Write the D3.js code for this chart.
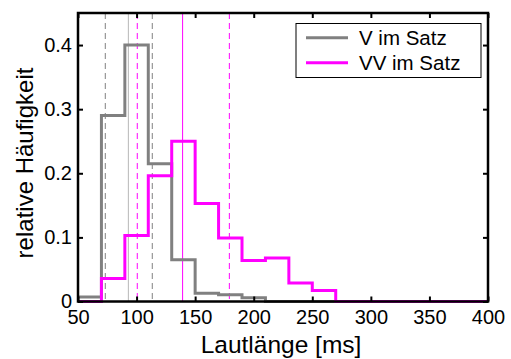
<!DOCTYPE html>
<html>
<head>
<meta charset="utf-8">
<script src="https://cdn.jsdelivr.net/npm/d3@7"></script>
<style>
  html, body { margin: 0; padding: 0; background: #fff; }
  svg { display: block; font-family: "Liberation Sans", Arial, sans-serif; }
</style>
</head>
<body>
<svg id="chart" width="511" height="359"></svg>
<script>
// Bin edges of the duration histograms (ms)
const binEdges = [50, 70, 90, 110, 130, 150, 170, 190, 210, 230, 250, 270, 400];
// Relative frequencies per bin
const vValues  = [0.007, 0.29, 0.40, 0.215, 0.065, 0.013, 0.0105, 0.006, 0, 0, 0, 0];
const vvValues = [0, 0.036, 0.103, 0.196, 0.25, 0.153, 0.099, 0.064, 0.068, 0.029, 0.017, 0];
// Reference lines: quartiles (dashed) and median (solid)
const vQuartiles  = [73.3, 113.4];
const vMedian     = 93;
const vvQuartiles = [100.6, 179.2];
const vvMedian    = 139.3;
const xTicks = [50, 100, 150, 200, 250, 300, 350, 400];
const yTicks = [0, 0.1, 0.2, 0.3, 0.4];
const seriesNames = ["V im Satz", "VV im Satz"];
const colors = ["#808080", "#ff00ff"];

const svg = d3.select("#chart");
const plotL = 78, plotR = 488, plotT = 13, plotB = 301.5;
const x = d3.scaleLinear().domain([50, 400]).range([plotL, plotR]);
const y = d3.scaleLinear().domain([0, 0.45]).range([plotB, plotT]);

// reference lines
function vline(v, color, dashed, width) {
  svg.append("line")
    .attr("x1", x(v)).attr("x2", x(v))
    .attr("y1", y(0.45)).attr("y2", y(0))
    .attr("stroke", color).attr("stroke-width", width || 1)
    .attr("stroke-dasharray", dashed ? "6,4" : null);
}
vQuartiles.forEach(v => vline(v, "#808080", true));
vline(vMedian, "#b8b8b8", false);
vvQuartiles.forEach(v => vline(v, "#ff00ff", true));
vline(vvMedian, "#ff00ff", false);

// stair histograms
const line = d3.line().x(d => x(d[0])).y(d => y(d[1])).curve(d3.curveStepAfter);
function stairs(values) {
  const pts = values.map((v, i) => [binEdges[i], v]);
  pts.push([binEdges[binEdges.length - 1], values[values.length - 1]]);
  return pts;
}
[vValues, vvValues].forEach((vals, i) => {
  svg.append("path")
    .attr("d", line(stairs(vals)))
    .attr("fill", "none")
    .attr("stroke", colors[i])
    .attr("stroke-width", 3)
    .attr("stroke-linejoin", "miter");
});

// axes frame with inward ticks
const fontSize = 20;
const xAxisB = d3.axisBottom(x).tickValues(xTicks).tickSizeInner(-5).tickSizeOuter(0).tickPadding(8.5).tickFormat(d3.format("d"));
const xAxisT = d3.axisTop(x).tickValues(xTicks).tickSizeInner(-5).tickSizeOuter(0).tickFormat("");
const yAxisL = d3.axisLeft(y).tickValues(yTicks).tickSizeInner(-5).tickSizeOuter(0).tickPadding(6)
  .tickFormat(d => d === 0 ? "0" : d.toFixed(1));
const yAxisR = d3.axisRight(y).tickValues(yTicks).tickSizeInner(-5).tickSizeOuter(0).tickFormat("");

function styleAxis(g) {
  g.select(".domain").remove();
  g.selectAll(".tick line").attr("stroke", "#000").attr("stroke-width", 2);
  g.selectAll(".tick text").attr("fill", "#000").style("font-size", fontSize + "px")
    .style("font-family", "'Liberation Sans', Arial, sans-serif");
}
svg.append("g").attr("transform", `translate(0,${plotB})`).call(xAxisB).call(styleAxis);
svg.append("g").attr("transform", `translate(0,${plotT})`).call(xAxisT).call(styleAxis);
svg.append("g").attr("transform", `translate(${plotL},0)`).call(yAxisL).call(styleAxis);
svg.append("g").attr("transform", `translate(${plotR},0)`).call(yAxisR).call(styleAxis);

svg.append("rect")
  .attr("x", plotL).attr("y", plotT)
  .attr("width", plotR - plotL).attr("height", plotB - plotT)
  .attr("fill", "none").attr("stroke", "#000").attr("stroke-width", 2.5);

// axis titles
svg.append("text")
  .attr("x", 281).attr("y", 353)
  .attr("text-anchor", "middle").style("font-size", "24.5px")
  .text("Lautlänge [ms]");
svg.append("text")
  .attr("transform", `translate(33,163) rotate(-90)`)
  .attr("text-anchor", "middle").style("font-size", "24px")
  .text("relative Häufigkeit");

// legend
const lg = svg.append("g");
lg.append("rect").attr("x", 296).attr("y", 23.5).attr("width", 185).attr("height", 54)
  .attr("fill", "#fff").attr("stroke", "#000").attr("stroke-width", 1);
seriesNames.forEach((name, i) => {
  const ly = 37.7 + i * 25;
  lg.append("line").attr("x1", 306).attr("x2", 348).attr("y1", ly).attr("y2", ly)
    .attr("stroke", colors[i]).attr("stroke-width", 3);
  lg.append("text").attr("x", 359).attr("y", ly + 7).style("font-size", "20.5px").text(name);
});
</script>
</body>
</html>
